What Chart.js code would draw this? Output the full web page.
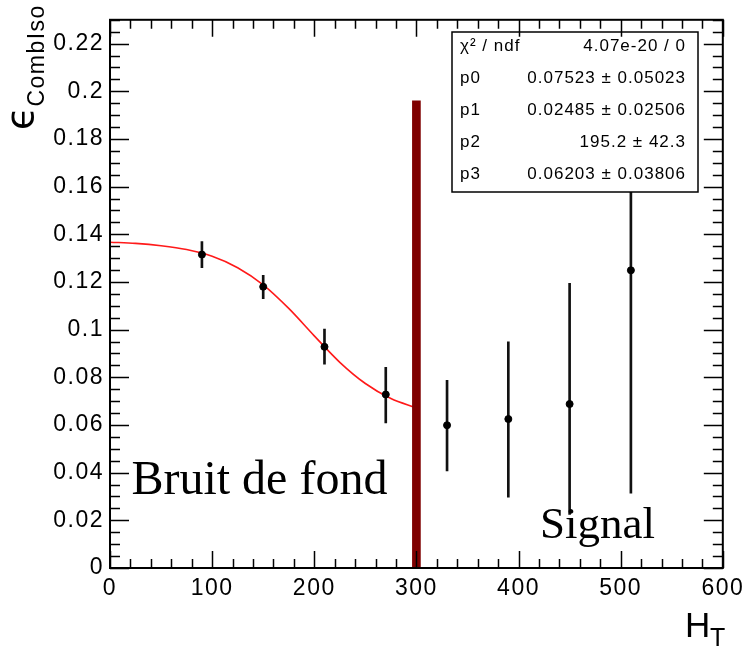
<!DOCTYPE html>
<html>
<head>
<meta charset="utf-8">
<script src="https://cdn.jsdelivr.net/npm/chart.js@4.4.1/dist/chart.umd.min.js"></script>
<style>
html, body { margin: 0; padding: 0; background: #fff; }
#wrap { width: 749px; height: 647px; }
</style>
</head>
<body>
<div id="wrap"><canvas id="chart" width="749" height="647"></canvas></div>
<script>
// efficiency points vs H_T, with low/high ends of the error bars
var htValues = [90, 150, 210, 270, 330, 390, 450, 510];
var effValues = [0.1315, 0.118, 0.0928, 0.0728, 0.0599, 0.0625, 0.0688, 0.1249];
var errLow = [0.126, 0.113, 0.0855, 0.0609, 0.0407, 0.0297, 0.0225, 0.0314];
var errHigh = [0.137, 0.1228, 0.1002, 0.0842, 0.0787, 0.0949, 0.1194, 0.205];

// fitted curve
var fitX = [0, 25, 50, 75, 100, 125, 150, 175, 200, 225, 250, 275, 300];
var fitY = [0.1367, 0.1362, 0.1352, 0.1336, 0.1308, 0.126, 0.1188, 0.1089, 0.0974, 0.0863, 0.0774, 0.0711, 0.0672];

// signal / background cut
var cutX = 300;
var cutRange = [0, 0.196];

var xTicks = [0, 100, 200, 300, 400, 500, 600];
var yTicks = [0, 0.02, 0.04, 0.06, 0.08, 0.1, 0.12, 0.14, 0.16, 0.18, 0.2, 0.22];

var statNames = ['\u03c7\u00b2 / ndf', 'p0', 'p1', 'p2', 'p3'];
var statValues = ['4.07e-20 / 0', '0.07523 \u00b1 0.05023', '0.02485 \u00b1 0.02506', '195.2 \u00b1 42.3', '0.06203 \u00b1 0.03806'];

var regionNames = ['Bruit de fond', 'Signal'];

var SANS = '"Liberation Sans", Arial, sans-serif';

// ROOT text is a bit wider than plain Arial
var spacingPlugin = {
    id: 'spacing',
    beforeDraw: function (chart) { chart.ctx.letterSpacing = '1.5px'; }
};

// frame + inward ticks on all four sides (ROOT style)
var framePlugin = {
    id: 'frame',
    afterDraw: function (chart) {
        var ctx = chart.ctx, a = chart.chartArea;
        var xs = chart.scales.x, ys = chart.scales.y;
        ctx.save();
        ctx.strokeStyle = '#000';
        ctx.lineWidth = 1.5;
        ctx.beginPath();
        for (var v = 0; v <= 600; v += 20) {
            var px = Math.round(xs.getPixelForValue(v)) + 0.5;
            var len = (v % 100 === 0) ? 17 : 9;
            ctx.moveTo(px, a.bottom); ctx.lineTo(px, a.bottom - len);
            ctx.moveTo(px, a.top); ctx.lineTo(px, a.top + len);
        }
        for (var k = 0; k <= 46; k++) {
            var py = Math.round(ys.getPixelForValue(k * 0.005)) + 0.5;
            var ylen = (k % 4 === 0) ? 19 : 10;
            ctx.moveTo(a.left, py); ctx.lineTo(a.left + ylen, py);
            ctx.moveTo(a.right, py); ctx.lineTo(a.right - ylen, py);
        }
        ctx.stroke();
        ctx.lineWidth = 2;
        ctx.strokeRect(a.left, a.top, a.right - a.left, a.bottom - a.top);

        // axis titles
        ctx.fillStyle = '#000';
        ctx.textAlign = 'left';
        ctx.textBaseline = 'alphabetic';
        ctx.letterSpacing = '0px';
        ctx.font = '35px ' + SANS;
        ctx.fillText('H', 685, 637);
        ctx.font = '25px ' + SANS;
        ctx.fillText('T', 710, 646);

        ctx.save();
        ctx.translate(33, 130);
        ctx.rotate(-Math.PI / 2);
        ctx.font = '38px "DejaVu Sans"';
        ctx.fillText('\u03f5', 0, 0);
        var ew = ctx.measureText('\u03f5').width;
        ctx.font = '23px ' + SANS;
        ctx.letterSpacing = '1.5px';
        ctx.fillText('CombIso', ew, 11);
        ctx.restore();
        ctx.restore();
    }
};

// stats box and region labels, above the data
var boxPlugin = {
    id: 'statbox',
    afterDatasetsDraw: function (chart) {
        var ctx = chart.ctx;
        var xs = chart.scales.x, ys = chart.scales.y;
        ctx.save();
        ctx.letterSpacing = '0px';
        ctx.fillStyle = '#000';
        ctx.textBaseline = 'alphabetic';
        ctx.textAlign = 'left';
        ctx.font = '48px "Liberation Serif", "Times New Roman", serif';
        ctx.fillText(regionNames[0], xs.getPixelForValue(21), ys.getPixelForValue(0.031));
        ctx.font = '45px "Liberation Serif", "Times New Roman", serif';
        ctx.fillText(regionNames[1], xs.getPixelForValue(421), ys.getPixelForValue(0.0127));

        var bx = 452, by = 32, bw = 246, bh = 160;
        ctx.fillStyle = '#fff';
        ctx.fillRect(bx, by, bw, bh);
        ctx.strokeStyle = '#000';
        ctx.lineWidth = 1.5;
        ctx.strokeRect(bx, by, bw, bh);
        ctx.fillStyle = '#000';
        ctx.font = '17px ' + SANS;
        ctx.letterSpacing = '1px';
        ctx.textBaseline = 'middle';
        for (var i = 0; i < statNames.length; i++) {
            var ry = by + 14 + i * 32;
            ctx.textAlign = 'left';
            ctx.fillText(statNames[i], bx + 8, ry);
            ctx.textAlign = 'right';
            ctx.fillText(statValues[i], bx + bw - 12, ry);
        }
        ctx.restore();
    }
};

new Chart(document.getElementById('chart').getContext('2d'), {
    type: 'scatter',
    data: {
        datasets: [{
            type: 'line',
            data: fitX.map(function (x, i) { return { x: x, y: fitY[i] }; }),
            borderColor: '#ff1a1a',
            borderWidth: 1.6,
            pointRadius: 0,
            cubicInterpolationMode: 'monotone',
            fill: false,
            order: 4
        }, {
            type: 'bar',
            data: htValues.map(function (x, i) { return { x: x, y: [errLow[i], errHigh[i]] }; }),
            backgroundColor: '#111',
            barThickness: 2,
            grouped: false,
            order: 3
        }, {
            type: 'scatter',
            data: htValues.map(function (x, i) { return { x: x, y: effValues[i] }; }),
            backgroundColor: '#000',
            borderColor: '#000',
            pointRadius: 3.5,
            order: 2
        }, {
            type: 'bar',
            data: [{ x: cutX, y: cutRange }],
            backgroundColor: '#7f0000',
            barThickness: 8,
            grouped: false,
            order: 1
        }]
    },
    options: {
        responsive: false,
        animation: false,
        layout: { padding: { top: 10, right: 22, left: 0, bottom: 0 } },
        plugins: { legend: { display: false }, tooltip: { enabled: false } },
        scales: {
            x: {
                type: 'linear',
                min: 0, max: 600,
                offset: false,
                grid: { display: false, drawTicks: false },
                border: { display: false },
                afterBuildTicks: function (s) { s.ticks = xTicks.map(function (v) { return { value: v }; }); },
                afterFit: function (s) { s.height = 79; },
                ticks: {
                    color: '#000',
                    padding: 7,
                    maxRotation: 0,
                    font: { family: SANS, size: 23 },
                    callback: function (v) { return String(v); }
                }
            },
            y: {
                type: 'linear',
                min: 0, max: 0.23,
                grid: { display: false, drawTicks: false },
                border: { display: false },
                afterBuildTicks: function (s) { s.ticks = yTicks.map(function (v) { return { value: v }; }); },
                afterFit: function (s) { s.width = 110; },
                ticks: {
                    color: '#000',
                    padding: 6,
                    font: { family: SANS, size: 23 },
                    callback: function (v) { return String(+v.toFixed(2)); }
                }
            }
        }
    },
    plugins: [spacingPlugin, boxPlugin, framePlugin]
});
</script>
</body>
</html>
